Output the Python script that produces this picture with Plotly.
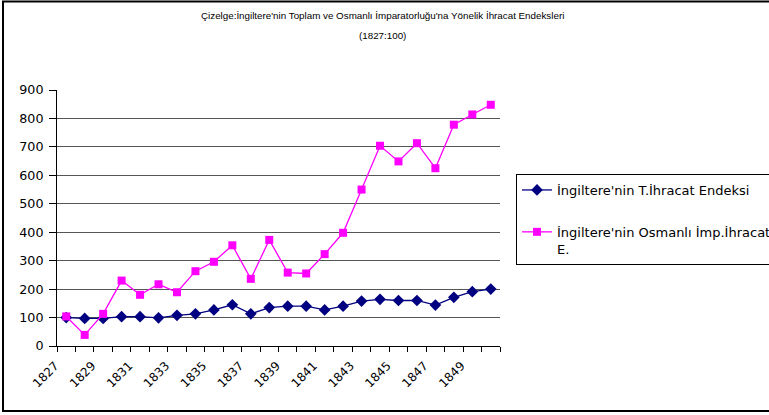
import plotly.graph_objects as go

years = list(range(1827, 1851))
toplam = [100, 97, 97, 103, 103, 99, 108, 113, 127, 145, 113,
          135, 140, 140, 127, 140, 158, 164, 160, 160, 144, 171, 191, 200]
osmanli = [104, 39, 113, 230, 180, 217, 189, 263, 296, 354, 236,
           373, 258, 255, 323, 398, 550, 704, 649, 713, 625, 778, 814, 848]
name_toplam = "İngiltere'nin T.İhracat Endeksi"
name_osmanli = "İngiltere'nin Osmanlı İmp.İhracat<br>E."
title_lines = ["Çizelge:İngiltere'nin Toplam ve Osmanlı İmparatorluğu'na Yönelik İhracat Endeksleri",
               "(1827:100)"]
y_ticks = list(range(0, 1000, 100))
x_labels = years[::2]

W, H = 769, 415
L, R, T, B = 57, 269, 90, 69
pw, ph = W - L - R, H - T - B

fig = go.Figure()
fig.add_trace(go.Scatter(
    x=years, y=toplam, name=name_toplam, mode="lines+markers",
    line=dict(color="#000080", width=1.3),
    marker=dict(symbol="diamond", size=9, color="#000080"),
    legendgroup="a"))
fig.add_trace(go.Scatter(
    x=years, y=osmanli, name=name_osmanli, mode="lines+markers",
    line=dict(color="#FF00FF", width=1.3),
    marker=dict(symbol="square", size=8, color="#FF00FF"),
    legendgroup="b"))

# outer frame
fig.add_shape(type="rect", xref="paper", yref="paper",
              x0=(3 - L) / pw, x1=(W + 20 - L) / pw,
              y0=(H - 411 - B) / ph, y1=(H - 1.5 - B) / ph,
              line=dict(color="#000000", width=2), layer="below")

# title lines
for txt, yc in zip(title_lines, [15.5, 35]):
    fig.add_annotation(text=txt, xref="paper", yref="paper",
                       x=(382 - L) / pw, xanchor="center",
                       y=(H - yc - B) / ph, yanchor="middle",
                       showarrow=False,
                       font=dict(family="Liberation Sans", size=9.8, color="#000000"))

fig.update_layout(
    width=W, height=H,
    margin=dict(l=L, r=R, t=T, b=B, autoexpand=False),
    paper_bgcolor="white", plot_bgcolor="white",
    font=dict(family="DejaVu Sans", size=12, color="#000000"),
    showlegend=True,
    legend=dict(x=(516 - L) / pw, xanchor="left", y=(H - 174 - B) / ph, yanchor="top",
                bordercolor="#000000", borderwidth=1, bgcolor="white",
                font=dict(family="DejaVu Sans", size=13),
                tracegroupgap=22, valign="top", itemwidth=30),
    xaxis=dict(range=[1826.5, 1850.5], tickmode="array", tickvals=x_labels,
               ticktext=[str(v) for v in x_labels], tickangle=-45,
               ticks="", showgrid=False, showline=True, linecolor="#000000",
               linewidth=1, zeroline=False, tickfont=dict(family="DejaVu Sans", size=12),
               ticklabelstandoff=7, ticklabelshift=-11,
               minor=dict(tickmode="array", tickvals=[y - 0.5 for y in years] + [years[-1] + 0.5],
                          ticks="outside", ticklen=5, tickcolor="#000000", showgrid=False)),
    yaxis=dict(range=[0, 900], tickmode="array", tickvals=y_ticks,
               showgrid=True, gridcolor="#555555", gridwidth=1,
               ticks="outside", ticklen=7, tickcolor="#000000",
               showline=True, linecolor="#000000", linewidth=1, zeroline=False,
               ticklabelstandoff=3,
               tickfont=dict(family="DejaVu Sans", size=12.7)),
)

fig.write_html("out.html", config={"displayModeBar": False},
               post_script="document.body.style.margin='0px';")
